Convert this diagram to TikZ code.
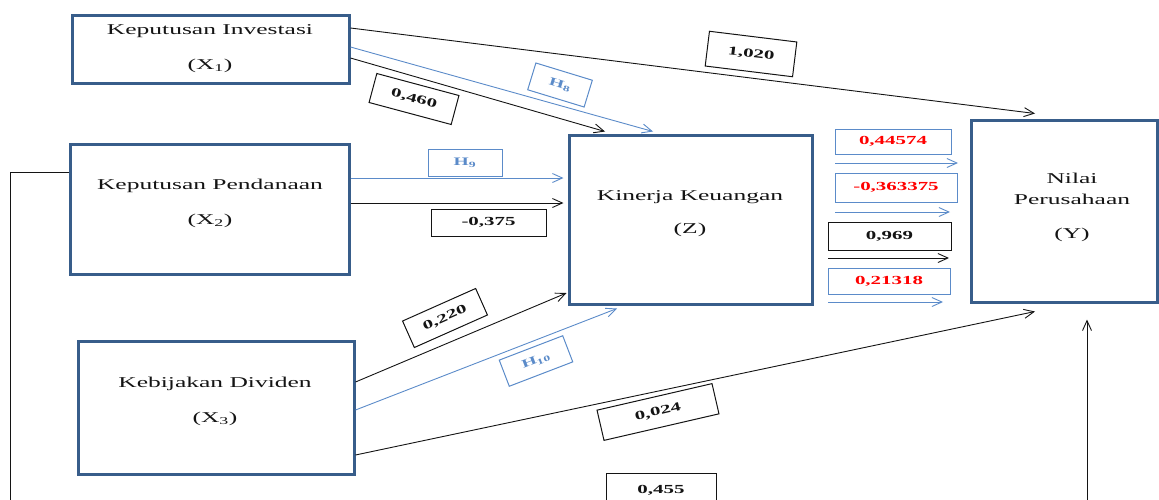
\documentclass[tikz,border=0pt]{standalone}
\usepackage{fontspec}
\setmainfont{Liberation Serif}[FakeStretch=1.7]
\usetikzlibrary{arrows.meta,calc}
\definecolor{boxblue}{HTML}{385D8A}
\definecolor{lblue}{HTML}{5B8BC9}
\definecolor{txt}{HTML}{141414}
\begin{document}
\begin{tikzpicture}[x=1pt,y=-1pt,
  var/.style={draw=boxblue,line width=3pt,rectangle,inner sep=0pt},
  vtext/.style={align=center,text=txt,font=\fontsize{15}{35}\selectfont},
  conn/.style={draw=txt,line width=0.9pt,-{Straight Barb[length=10pt,width=9pt]}},
  hconn/.style={conn,draw=lblue},
  lab/.style={draw=txt,line width=1pt,inner sep=0pt,text=txt,font=\bfseries\fontsize{12.3}{14}\selectfont},
  hlab/.style={lab,draw=lblue,text=lblue,font=\bfseries\fontsize{11.5}{13}\selectfont},
  rlab/.style={lab,draw=lblue,text=red},
]
\useasboundingbox (0,0) rectangle (1159,499);

% variable boxes
\node[var,minimum width=277pt,minimum height=68pt]  (X1) at (210.5,49) {};
\node[var,minimum width=279pt,minimum height=130pt] (X2) at (209.5,209) {};
\node[var,minimum width=276pt,minimum height=133pt] (X3) at (216,407.5) {};
\node[var,minimum width=243pt,minimum height=169pt] (Z)  at (690.5,219.5) {};
\node[var,minimum width=186pt,minimum height=182pt] (Y)  at (1064,211) {};

\node[vtext] (X1t) at (210,48.5) {Keputusan Investasi\\(X\textsubscript{1})};
\node[vtext] (X2t) at (210,203) {Keputusan Pendanaan\\(X\textsubscript{2})};
\node[vtext] (X3t) at (215,401.5) {Kebijakan Dividen\\(X\textsubscript{3})};
\node[vtext,font=\fontsize{15}{33}\selectfont] (Zt) at (690,213.5) {Kinerja Keuangan\\(Z)};
\node[vtext,font=\fontsize{15}{21}\selectfont] (Yt) at (1072,207) {Nilai\\Perusahaan\\[13pt](Y)};

% end points
\coordinate (Ytop)  at ($(Y.north -| 1035,0)+(0,-5)$);
\coordinate (Ybot1) at ($(Y.south -| 1035,0)+(0,8)$);
\coordinate (Ybot2) at ($(Y.south -| 1087,0)+(0,16)$);
\coordinate (Ztop1) at ($(Z.north -| 605,0)+(0,-2)$);
\coordinate (Ztop2) at ($(Z.north -| 653,0)+(0,-2)$);
\coordinate (Zbot)  at ($(Z.south -| 617,0)+(0,3)$);

% X1 connectors
\draw[conn]  (X1.east |- 0,28) -- (Ytop);
\draw[hconn] (X1.east |- 0,47) -- (Ztop2);
\draw[conn]  (X1.east |- 0,58) -- (Ztop1);
% X2 connectors
\draw[hconn] (X2.east |- 0,178) -- ($(Z.west |- 0,178)+(-4,0)$);
\draw[conn]  (X2.east |- 0,203) -- ($(Z.west |- 0,203)+(-4,0)$);
% X3 connectors
\draw[conn]  (X3.east |- 0,382) -- ($(Z.west |- 0,293)+(-1,0)$);
\draw[hconn] (X3.east |- 0,410) -- (Zbot);
\draw[conn]  (X3.east |- 0,455) -- (Ybot1);
% loop from X2 to Y
\draw[conn]  (X2.west |- 0,172) -- (10,172) -- (10,520) -- (1087,520) -- (Ybot2);

% Z to Y arrows
\coordinate (a1s) at (835,163); \coordinate (a1e) at (958,163);
\coordinate (a2s) at (835,212); \coordinate (a2e) at (950,212);
\coordinate (a3s) at (828,258); \coordinate (a3e) at (949,258);
\coordinate (a4s) at (828,302); \coordinate (a4e) at (943,302);
\draw[hconn] (a1s) -- (a1e);
\draw[hconn] (a2s) -- (a2e);
\draw[conn]  (a3s) -- (a3e);
\draw[hconn] (a4s) -- (a4e);

% labels
\node[lab,minimum width=85pt,minimum height=30pt,rotate=-15] (L460) at (414,99) {0,460};
\node[hlab,minimum width=59pt,minimum height=28pt,rotate=-17] (LH8) at (560,85) {H\textsubscript{8}};
\node[lab,minimum width=88pt,minimum height=35pt,rotate=-7] (L1020) at (751,54) {1,020};
\node[hlab,minimum width=74pt,minimum height=27pt] (LH9) at (465,162.5) {H\textsubscript{9}};
\node[lab,minimum width=115pt,minimum height=27pt] (L375) at (488.5,222.5) {-0,375};
\node[lab,minimum width=80pt,minimum height=29pt,rotate=24] (L220) at (445,318) {0,220};
\node[hlab,minimum width=68pt,minimum height=28pt,rotate=21] (LH10) at (536,361) {H\textsubscript{10}};
\node[lab,minimum width=118pt,minimum height=31pt,rotate=13] (L024) at (658,412) {0,024};
\node[lab,minimum width=110pt,minimum height=34pt] (L455) at (661,490) {0,455};
\node[rlab,minimum width=116pt,minimum height=25pt] (L1) at (893,141.5) {0,44574};
\node[rlab,minimum width=122pt,minimum height=29pt] (L2) at (896,187.5) {-0,363375};
\node[lab,minimum width=123pt,minimum height=28pt] (L3) at (889.5,236) {0,969};
\node[rlab,minimum width=122pt,minimum height=26pt] (L4) at (889,281) {0,21318};
\end{tikzpicture}
\end{document}
